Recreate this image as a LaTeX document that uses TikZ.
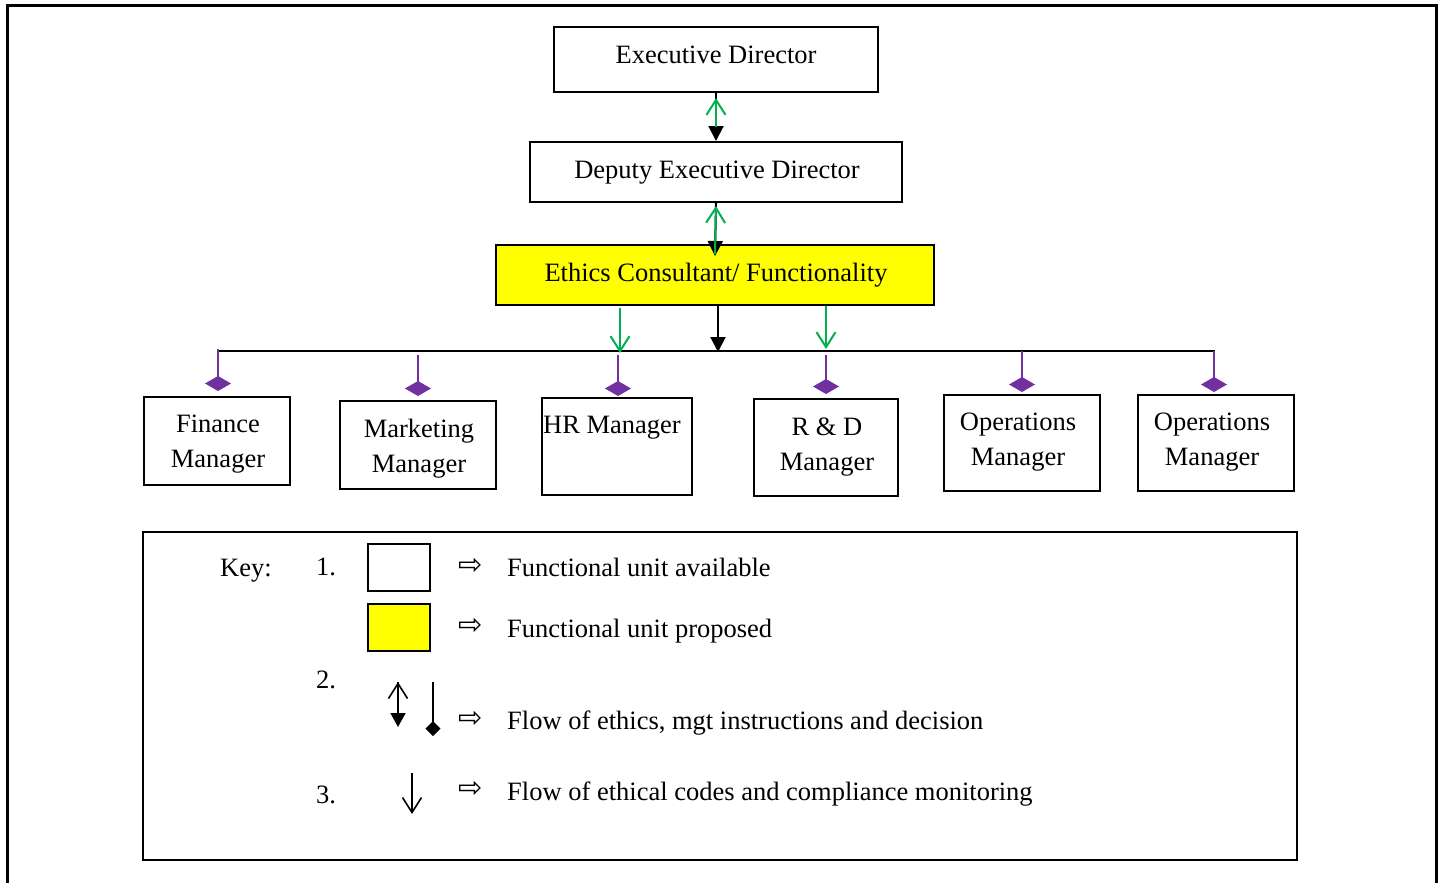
\documentclass[tikz,border=0pt]{standalone}
\usepackage{fontspec}
\setmainfont{Liberation Serif}
\newfontfamily\symfont{DejaVu Sans}
\usetikzlibrary{arrows.meta}
\definecolor{okgreen}{HTML}{00B050}
\definecolor{mgrpurple}{HTML}{7030A0}
\definecolor{propyellow}{HTML}{FFFF00}
\begin{document}
\begin{tikzpicture}[x=1pt,y=-1pt,
  every node/.style={font=\fontsize{26.5}{35}\selectfont},
  unit/.style={draw, line width=2pt, inner sep=0pt},
  lbl/.style={inner sep=0pt, align=center},
  txt/.style={inner sep=0pt, anchor=west},
  sym/.style={inner sep=0pt, font=\symfont\fontsize{29}{29}\selectfont},
  blkline/.style={line width=2pt, black},
  greenup/.style={okgreen, line width=2pt, -{Straight Barb[length=15pt,width=19pt]}},
  fillhead/.style={line width=2pt, -{Triangle[length=15pt,width=15pt]}},
  purpledrop/.style={mgrpurple, line width=2pt, -{Diamond[length=15pt,width=26pt]}},
  keyopen/.style={line width=1.6pt, -{Straight Barb[length=15pt,width=19pt]}}
]
\useasboundingbox (0,0) rectangle (1440,883);
% outer frame
\draw[line width=3pt] (7,883) -- (7,5.5) -- (1436,5.5) -- (1436,883);

% management chain
\node[unit, minimum width=324pt, minimum height=65pt] (ed) at (716,59.5) {};
\node[lbl] (edt) at (716,54.5) {Executive Director};
\node[unit, minimum width=372pt, minimum height=60pt] (dd) at (716,172) {};
\node[lbl] (ddt) at (717,173) {Deputy Executive Director};
\node[unit, fill=propyellow, minimum width=438pt, minimum height=60pt] (ec) at (715,275) {};
\node[lbl] (ect) at (716,275) {Ethics Consultant/ Functionality};

% managers
\node[unit, minimum width=146pt, minimum height=88pt] (fm) at (217,441) {};
\node[lbl] (fmt) at (218,444) {Finance\\Manager};
\node[unit, minimum width=156pt, minimum height=88pt] (mm) at (418,445) {};
\node[lbl] (mmt) at (419,449) {Marketing\\Manager};
\node[unit, minimum width=150pt, minimum height=97pt] (hr) at (617,446.5) {};
\node[txt] (hrt) at (543,428) {HR Manager};
\node[unit, minimum width=144pt, minimum height=97pt] (rd) at (826,447.5) {};
\node[lbl] (rdt) at (827,447) {R \& D\\Manager};
\node[unit, minimum width=156pt, minimum height=96pt] (op1) at (1022,443) {};
\node[lbl] (op1t) at (1018,442) {Operations\\Manager};
\node[unit, minimum width=156pt, minimum height=96pt] (op2) at (1216,443) {};
\node[lbl] (op2t) at (1212,442) {Operations\\Manager};

% arrows between chain levels
\draw[fillhead] (ed.south) -- (dd.north);
\draw[greenup, shorten >=5pt, shorten <=14pt] (dd.north) -- (ed.south);
\draw[fillhead] (dd.south) -- ([yshift=-12pt]ec.north);
\draw[greenup, shorten >=3pt] ([yshift=-10pt]ec.north) -- (dd.south);

% distribution bus
\coordinate (busL) at (218,351);
\coordinate (busR) at (1215,351);
\draw[blkline] (busL) -- (busR);
\coordinate (bk) at (718,352);
\coordinate (g1) at (620,353);
\coordinate (g2) at (826,349);
\draw[fillhead] (ec.south -| bk) -- (bk);
\draw[greenup] ([yshift=-2pt]ec.south -| g1) -- (g1);
\draw[greenup] (ec.south -| g2) -- (g2);

% drops to each manager
\coordinate (d1) at (218,349);
\coordinate (d2) at (418,355);
\coordinate (d3) at (618,355);
\coordinate (d4) at (826,355);
\coordinate (d5) at (1022,351);
\coordinate (d6) at (1214,351);
\draw[purpledrop, shorten >=5pt] (d1) -- (d1 |- fm.north);
\draw[purpledrop, shorten >=4pt] (d2) -- (d2 |- mm.north);
\draw[purpledrop, shorten >=1pt] (d3) -- (d3 |- hr.north);
\draw[purpledrop, shorten >=4pt] (d4) -- (d4 |- rd.north);
\draw[purpledrop, shorten >=2pt] (d5) -- (d5 |- op1.north);
\draw[purpledrop, shorten >=2pt] (d6) -- (d6 |- op2.north);

% key
\node[unit, minimum width=1154pt, minimum height=328pt] (key) at (720,696) {};
\node[txt] (keylbl) at (220,571) {Key:};
\node[txt] (n1) at (316,567) {1.};
\node[txt] (n2) at (316,680) {2.};
\node[txt] (n3) at (316,795) {3.};
\node[unit, line width=2.5pt, minimum width=62pt, minimum height=47pt] (kav) at (399,567.5) {};
\node[unit, line width=2.5pt, fill=propyellow, minimum width=62pt, minimum height=47pt] (kpr) at (399,627.5) {};
\node[sym] (s1) at (471,566) {⇨};
\node[sym] (s2) at (471,626) {⇨};
\node[sym] (s3) at (471,719) {⇨};
\node[sym] (s4) at (471,789) {⇨};
\node[txt] (t1) at (507,567) {Functional unit available};
\node[txt] (t2) at (507,631) {Functional unit proposed};
\node[txt] (t3) at (507,723) {Flow of ethics, mgt instructions and decision};
\node[txt] (t4) at (507,794) {Flow of ethical codes and compliance monitoring};

% key symbols
\coordinate (k2top) at (398,682);
\coordinate (k2bot) at (398,727);
\draw[line width=1.6pt, -{Triangle[length=14pt,width=15pt]}] (k2top) -- (k2bot);
\draw[keyopen, shorten <=14pt] (k2bot) -- (k2top);
\coordinate (k3top) at (433,682);
\coordinate (k3bot) at (433,736);
\draw[line width=1.6pt, -{Diamond[length=15pt,width=15pt]}] (k3top) -- (k3bot);
\coordinate (k4top) at (412,773);
\coordinate (k4bot) at (412,814);
\draw[keyopen] (k4top) -- (k4bot);
\end{tikzpicture}
\end{document}
